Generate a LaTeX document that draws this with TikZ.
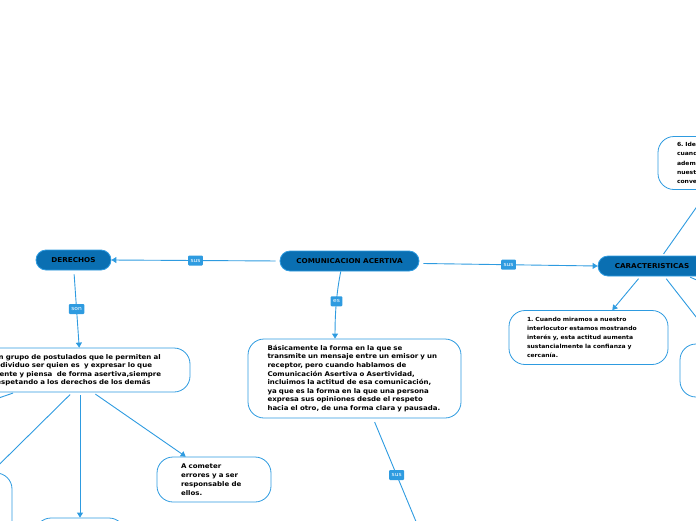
\documentclass[tikz,border=0pt]{standalone}
\usepackage{fontspec}
\setmainfont{DejaVu Sans}[FakeStretch=1.08]
\usetikzlibrary{arrows.meta}
\frenchspacing
\definecolor{lineblue}{HTML}{2E9BE0}
\definecolor{mainfill}{HTML}{0A6FB2}
\definecolor{lblfill}{HTML}{2E9BE0}
\tikzset{
 mainnode/.style={draw=lineblue, fill=mainfill, line width=0.8pt, rounded corners=10pt, minimum height=20pt, inner sep=0pt, font=\bfseries\fontsize{6.7}{7}\selectfont, text=black},
 subnode/.style={draw=lineblue, fill=white, line width=0.8pt, rounded corners=16pt, inner sep=0pt, align=left, font=\bfseries\fontsize{6.5}{8.6}\selectfont, text=black},
 conn/.style={draw=lineblue, line width=0.9pt},
 arr/.style={-{Triangle[length=5pt,width=6pt]}},
 lbl/.style={fill=lblfill, text=white, font=\fontsize{5.5}{5.5}\selectfont, inner xsep=2.5pt, inner ysep=0pt, minimum height=10pt, rounded corners=1pt}
}
\begin{document}
\begin{tikzpicture}[x=1pt,y=-1pt]
\useasboundingbox (0,0) rectangle (696,520);
\clip (0,0) rectangle (696,520);
% main nodes
\node[mainnode, minimum width=139pt] (central) at (349.5,261) {COMUNICACION ACERTIVA};
\node[mainnode, minimum width=75pt] (der) at (73.5,260) {DERECHOS};
\node[mainnode, minimum width=108pt] (car) at (652,266) {CARACTERISTICAS};
% sub nodes
\node[subnode, minimum width=220pt, minimum height=44pt, text width=174pt, font=\bfseries\fontsize{6.5}{8.5}\selectfont] (post) at (80,370)
 {Un grupo de postulados que le permiten al\\ individuo ser quien es\ \ y expresar lo que\\ siente y piensa\ \ de forma asertiva,siempre\\ respetando a los derechos de los demás};
\node[subnode, minimum width=213pt, minimum height=79pt, text width=174pt] (desc) at (354.5,378.5)
 {Básicamente la forma en la que se\\ transmite un mensaje entre un emisor y un\\ receptor, pero cuando hablamos de\\ Comunicación Asertiva o Asertividad,\\ incluimos la actitud de esa comunicación,\\ ya que es la forma en la que una persona\\ expresa sus opiniones desde el respeto\\ hacia el otro, de una forma clara y pausada.};
\node[subnode, minimum width=114pt, minimum height=45pt, text width=66pt, font=\bfseries\fontsize{6.5}{8.9}\selectfont] (acom) at (214,479.5)
 {A cometer\\ errores y a ser\\ responsable de\\ ellos.};
\node[subnode, minimum width=159pt, minimum height=54pt, text width=123pt, font=\bfseries\fontsize{5.6}{9.2}\selectfont] (one) at (588.5,337.5)
 {1. Cuando miramos a nuestro\\ interlocutor estamos mostrando\\ interés y, esta actitud aumenta\\ sustancialmente la confianza y\\ cercanía.};
\node[subnode, minimum width=159pt, minimum height=53pt, text width=121pt, font=\bfseries\fontsize{5.6}{9.2}\selectfont] (six) at (737.5,163)
 {6. Identificarse\\ cuando\\ además\\ nuestra\\ conversación};
\node[subnode, minimum width=160pt, minimum height=53pt] (rmid) at (760,370.5) {};
\node[subnode, minimum width=84pt, minimum height=64pt] (bl) at (-30,505) {};
\node[subnode, minimum width=90pt, minimum height=54pt] (bot) at (80,545) {};
\coordinate (offA) at (-100,432);
\coordinate (offB) at (432,560);
\coordinate (offC) at (800,324);
% connectors
\draw[conn,arr,shorten <=4pt] (central.west) -- node[lbl]{sus} (der.east);
\draw[conn,arr,shorten <=4pt] (central.358) -- node[lbl]{sus} (car.west);
\draw[conn,arr] (central.230) .. controls (337,290) and (335,310) .. node[lbl, pos=0.5]{es} (desc.116);
\draw[conn,arr,shorten <=4pt] (der.-88) -- node[lbl]{son} (post.92);
\draw[conn,shorten <=4pt] (desc.295) -- node[lbl, pos=0.4]{sus} (offB);
\draw[conn,shorten <=2pt] (post.199) -- (offA);
\draw[conn,arr,shorten <=3pt] (post.-109) -- (bl.57);
\draw[conn,arr,shorten <=3pt] (post.south) -- (bot.north);
\draw[conn,arr,shorten <=3pt] (post.-60) -- (acom.141);
\draw[conn,arr,shorten <=2pt] (car.45) -- (six.223);
\draw[conn,arr,shorten <=3pt] (car.222) -- (one.49);
\draw[conn,arr,shorten <=3pt] (car.320) -- (rmid.148);
\draw[conn,shorten <=2pt] (car.344) -- (offC);
\end{tikzpicture}
\end{document}
